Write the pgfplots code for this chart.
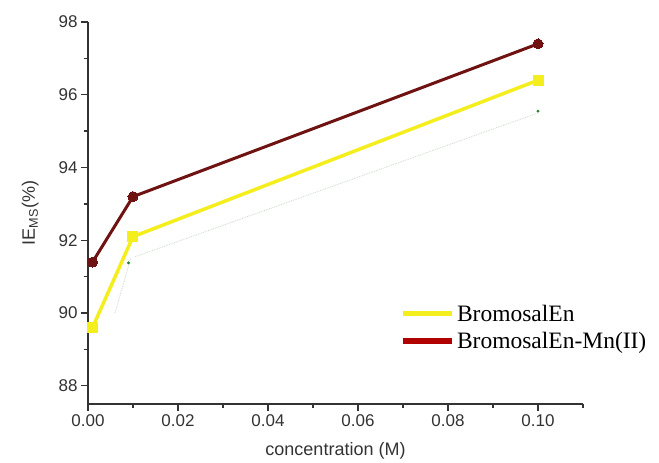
\documentclass[border=0pt]{standalone}
\usepackage{fontspec}
\setmainfont{Liberation Sans}
\newfontfamily\timesf{Liberation Serif}
\usepackage{pgfplots}
\pgfplotsset{compat=1.18}
\definecolor{brownl}{HTML}{6E1212}
\definecolor{yell}{HTML}{F5EE1F}
\definecolor{legred}{HTML}{B00000}
\definecolor{txt}{HTML}{333333}
\definecolor{ghost}{HTML}{C8D8C8}
\definecolor{dgreen}{HTML}{1E7A2E}
\begin{document}
\begin{tikzpicture}
\begin{axis}[
  scale only axis, width=495pt, height=382pt,
  xmin=0, xmax=0.11, ymin=87.5, ymax=98,
  axis x line*=bottom, axis y line*=left,
  axis line style={txt, line width=1.3pt, -},
  xtick={0,0.02,0.04,0.06,0.08,0.10},
  xticklabels={0.00,0.02,0.04,0.06,0.08,0.10},
  minor xtick={0.01,0.03,0.05,0.07,0.09,0.11},
  ytick={88,90,92,94,96,98},
  minor ytick={89,91,93,95,97},
  tick align=outside, major tick length=7pt, minor tick length=4pt,
  tick style={txt, line width=1.3pt},
  /pgf/number format/assume math mode=true,
  scaled x ticks=false,
  ticklabel style={font=\fontsize{17}{19}\selectfont, text=txt},
  xlabel={concentration (M)},
  ylabel={IE\textsubscript{MS}(\%)},
  label style={font=\fontsize{18}{20}\selectfont, text=txt},
  xlabel style={yshift=-9pt},
  ylabel style={yshift=13pt},
  clip=false,
  legend style={at={(rel axis cs:0.63,0.265)}, anchor=north west, draw=none, fill=none,
    font=\timesf\fontsize{23.5}{26}\selectfont, inner sep=0pt, row sep=5pt,
    legend cell align=left},
  legend image code/.code={\draw[#1] (0pt,0pt) -- (49pt,0pt);},
]
\addplot[ghost, densely dotted, line width=0.8pt, forget plot] coordinates {(0.006,90.0) (0.0095,91.5)};
\addplot[ghost, densely dotted, line width=0.8pt, forget plot] coordinates {(0.0105,91.55) (0.1,95.5)};
\addplot[dgreen, only marks, mark=*, mark size=1.3pt, forget plot] coordinates {(0.009,91.38) (0.1,95.55)};
\addplot[yell, line width=3.5pt, mark=square*, mark size=5pt, mark options={solid, fill=yell, draw=yell, line width=0pt}, forget plot]
  coordinates {(0.001,89.6) (0.01,92.1) (0.1,96.4)};
\addplot[brownl, line width=3pt, mark=*, mark size=5pt, mark options={solid, fill=brownl, draw=brownl, line width=0pt}, forget plot]
  coordinates {(0.001,91.4) (0.01,93.2) (0.1,97.4)};
\addlegendimage{yell, line width=5pt}
\addlegendentry{BromosalEn}
\addlegendimage{legred, line width=6pt}
\addlegendentry{BromosalEn-Mn(II)}
\path ([xshift=-88pt,yshift=-53pt]rel axis cs:0,0) rectangle ([xshift=571pt,yshift=404pt]rel axis cs:0,0);
\end{axis}
\end{tikzpicture}
\end{document}
